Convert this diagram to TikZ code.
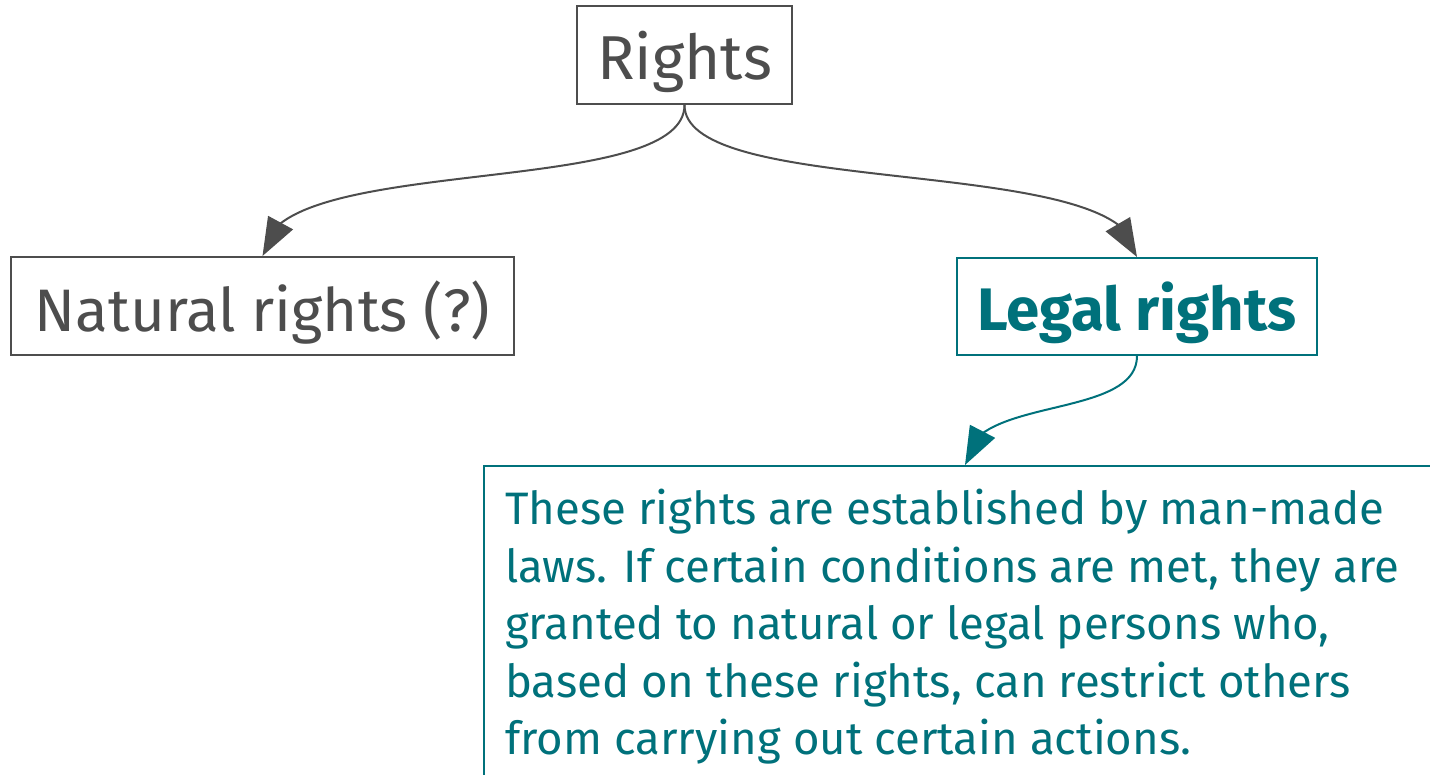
\documentclass[tikz,border=0pt]{standalone}
\usepackage{fontspec}
\setmainfont{Fira Sans}
\usetikzlibrary{arrows.meta,bending}
\definecolor{rgray}{HTML}{4D4D4D}
\definecolor{rteal}{HTML}{00717B}
\tikzset{
  box/.style={draw, rectangle, line width=2pt, inner sep=0pt, text depth=0pt},
  link/.style={line width=2pt, -{Triangle[length=38pt,width=28pt,flex]}},
}
\begin{document}
\begin{tikzpicture}[x=1pt,y=-1pt]
    \useasboundingbox (0,0) rectangle (1430,775);
    \clip (0,0) rectangle (1430,775);

    \node [box, rgray, minimum width=215, minimum height=98, font=\fontsize{62}{74}\selectfont] (rights) at (684.5,55) {Rights};
    \node [box, rgray, minimum width=503, minimum height=98, font=\fontsize{60}{72}\selectfont] (natural) at (262.5,306) {Natural rights (?)};
    \node [box, rteal, minimum width=360, minimum height=97, font=\fontsize{60}{72}\selectfont\bfseries] (legal) at (1137,306.5) {Legal rights};

    \node [draw, rteal, line width=2pt, anchor=north west, minimum width=1000, minimum height=400] (descbox) at (483,465) {};
    \node [rteal, anchor=north west, inner sep=0pt, align=left, font=\fontsize{45.5}{57.5}\selectfont] (desc) at (505,489)
      {These rights are established by man-made\\
       laws. If certain conditions are met, they are\\
       granted to natural or legal persons who,\\
       based on these rights, can restrict others\\
       from carrying out certain actions.};

    \draw [link, rgray] (rights.south) .. controls +(0,96) and +(0,-105) .. (natural.north);
    \draw [link, rgray] (rights.south) .. controls +(0,96) and +(0,-105) .. (legal.north);
    \draw [link, rteal] (legal.south) .. controls +(0,65) and +(0,-70) .. ([xshift=482pt]descbox.north west);
\end{tikzpicture}
\end{document}
